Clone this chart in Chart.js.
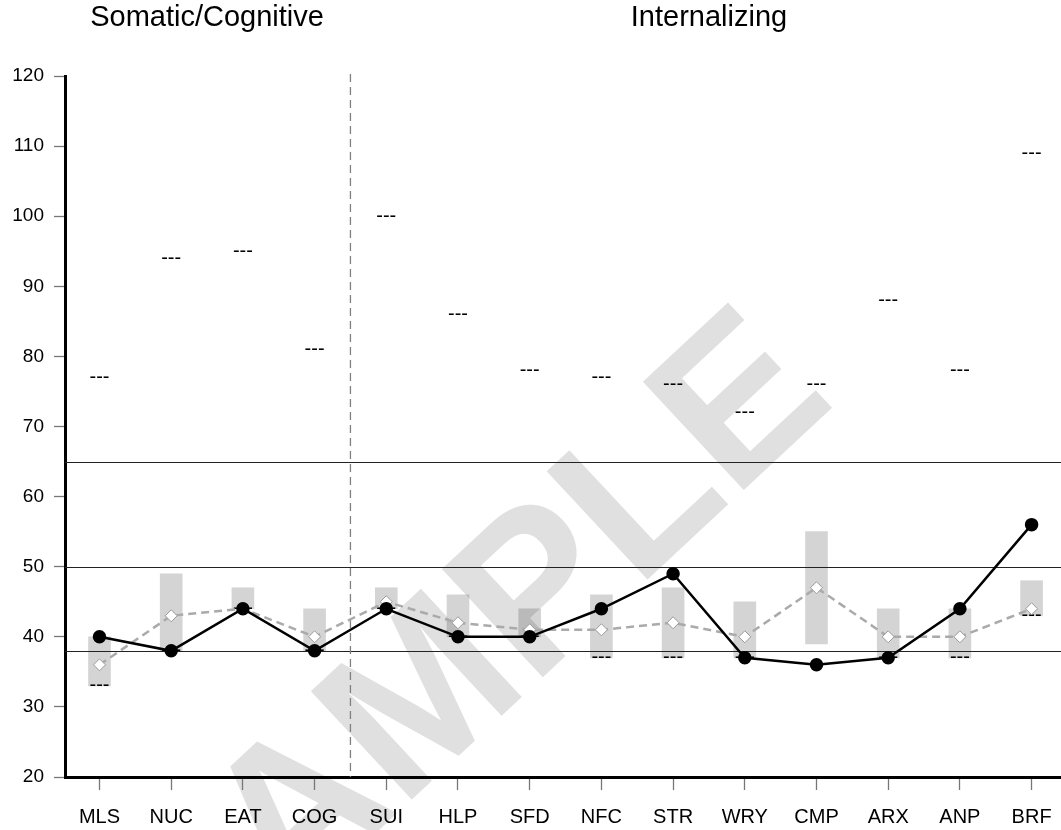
<!DOCTYPE html>
<html>
<head>
<meta charset="utf-8">
<script src="https://cdn.jsdelivr.net/npm/chart.js@4.4.1/dist/chart.umd.min.js"></script>
<style>
  body { margin: 0; background: #fff; }
  canvas { display: block; }
</style>
</head>
<body>
<canvas id="myChart" width="1061" height="830"></canvas>
<script>
const categories = ['MLS', 'NUC', 'EAT', 'COG', 'SUI', 'HLP', 'SFD', 'NFC', 'STR', 'WRY', 'CMP', 'ARX', 'ANP', 'BRF']

// T scores (black line) and comparison group (grey dashed line)
const scores = [40, 38, 44, 38, 44, 40, 40, 44, 49, 37, 36, 37, 44, 56]
const comparison = [36, 43, 44, 40, 45, 42, 41, 41, 42, 40, 47, 40, 40, 44]

// grey range bars
const rangeLow = [33, 38, 44, 38, 44, 40, 40, 37, 37, 37, 39, 37, 37, 43]
const rangeHigh = [40, 49, 47, 44, 47, 46, 44, 46, 47, 45, 55, 44, 44, 48]

// "---" marks, highest and lowest possible score
const maxMarks = [77, 94, 95, 81, 100, 86, 78, 77, 76, 72, 76, 88, 78, 109]
const minMarks = [33, 38, 44, 38, 44, 40, 40, 37, 37, 37, 36, 37, 37, 43]

const refLines = [38, 50, 65]
const yMin = 20
const yMax = 120
const yStep = 10

const groups = [
    { title: 'Somatic/Cognitive', from: 0, to: 3 },
    { title: 'Internalizing', from: 4, to: 13 },
]
const dividerAt = 3.5

const FONT = "'Liberation Sans', Arial, Helvetica, sans-serif"

const toPoints = (arr) => arr.map((v, i) => ({ x: i, y: v }))

const extras = {
    id: 'extras',
    beforeDraw: (chart) => {
        const ctx = chart.ctx
        ctx.save()
        ctx.translate(470, 664)
        ctx.rotate(-43 * Math.PI / 180)
        ctx.font = `bold 215px ${FONT}`
        ctx.fillStyle = '#e0e0e0'
        ctx.textAlign = 'center'
        ctx.textBaseline = 'middle'
        ctx.fillText('SAMPLE', 0, 0)
        ctx.restore()
    },
    afterDatasetDraw: (chart, args) => {
        if (args.index !== 0) return
        const ctx = chart.ctx
        const x = chart.scales.x
        const y = chart.scales.y
        const area = chart.chartArea
        ctx.save()
        // reference lines
        ctx.strokeStyle = '#222'
        ctx.lineWidth = 1
        refLines.forEach(v => {
            const py = Math.round(y.getPixelForValue(v)) + 0.5
            ctx.beginPath()
            ctx.moveTo(area.left, py)
            ctx.lineTo(area.right, py)
            ctx.stroke()
        })
        // divider
        ctx.strokeStyle = '#808080'
        ctx.lineWidth = 1.3
        ctx.setLineDash([8, 5])
        const dx = x.getPixelForValue(dividerAt)
        ctx.beginPath()
        ctx.moveTo(dx, area.top - 2)
        ctx.lineTo(dx, area.bottom)
        ctx.stroke()
        ctx.setLineDash([])
        // --- marks
        ctx.fillStyle = '#000'
        ctx.font = `20px ${FONT}`
        ctx.textAlign = 'center'
        ctx.textBaseline = 'alphabetic'
        categories.forEach((c, i) => {
            const px = x.getPixelForValue(i)
            ctx.fillText('---', px, y.getPixelForValue(maxMarks[i]) + 5.5)
            ctx.fillText('---', px, y.getPixelForValue(minMarks[i]) + 5.5)
        })
        ctx.restore()
    },
    afterDraw: (chart) => {
        const ctx = chart.ctx
        const x = chart.scales.x
        ctx.save()
        ctx.fillStyle = '#000'
        ctx.font = `29px ${FONT}`
        ctx.textAlign = 'center'
        ctx.textBaseline = 'middle'
        groups.forEach(g => {
            const cx = (x.getPixelForValue(g.from) + x.getPixelForValue(g.to)) / 2
            ctx.fillText(g.title, cx, 18)
        })
        ctx.restore()
    }
}

const data = {
    datasets: [{
        type: 'bar',
        label: 'Range',
        data: categories.map((c, i) => ({ x: i, y: [rangeLow[i], rangeHigh[i]] })),
        backgroundColor: 'rgba(0, 0, 0, 0.17)',
        borderWidth: 0,
        barThickness: 22,
        order: 3,
    }, {
        type: 'line',
        label: 'Comparison',
        data: toPoints(comparison),
        borderColor: '#aaaaaa',
        borderWidth: 2.5,
        borderDash: [8, 5],
        pointStyle: 'rectRot',
        pointRadius: 6,
        pointBackgroundColor: '#ffffff',
        pointBorderColor: '#999999',
        pointBorderWidth: 1,
        order: 2,
    }, {
        type: 'line',
        label: 'Score',
        data: toPoints(scores),
        borderColor: '#000000',
        borderWidth: 2.5,
        pointStyle: 'circle',
        pointRadius: 5.5,
        pointBackgroundColor: '#000000',
        pointBorderColor: '#000000',
        order: 1,
    }]
}

const config = {
    type: 'line',
    data: data,
    options: {
        responsive: false,
        animation: false,
        devicePixelRatio: 1,
        layout: { autoPadding: false, padding: { top: 76, left: 0, right: 0, bottom: 0 } },
        plugins: {
            legend: { display: false },
            tooltip: { enabled: false },
        },
        scales: {
            x: {
                type: 'linear',
                offset: false,
                min: -0.481,
                max: 13.41,
                afterBuildTicks: (axis) => { axis.ticks = categories.map((c, i) => ({ value: i })) },
                afterFit: (axis) => { axis.height = 53 },
                ticks: {
                    autoSkip: false,
                    maxRotation: 0,
                    padding: 0,
                    color: '#000',
                    font: { family: FONT, size: 20, lineHeight: 2.7 },
                    callback: (v) => categories[v],
                },
                grid: { offset: false, drawOnChartArea: false, tickLength: 13, tickColor: '#777', tickWidth: 1.3 },
                border: { color: '#000', width: 3 },
            },
            y: {
                min: yMin,
                max: yMax,
                afterFit: (axis) => { axis.width = 65 },
                ticks: {
                    stepSize: yStep,
                    padding: 10,
                    color: '#000',
                    font: { family: FONT, size: 19 },
                },
                grid: { drawOnChartArea: false, tickLength: 11, tickColor: '#777', tickWidth: 1.3 },
                border: { color: '#000', width: 3 },
            }
        }
    },
    plugins: [extras]
}

const myChart = new Chart(document.getElementById('myChart'), config)
</script>
</body>
</html>
